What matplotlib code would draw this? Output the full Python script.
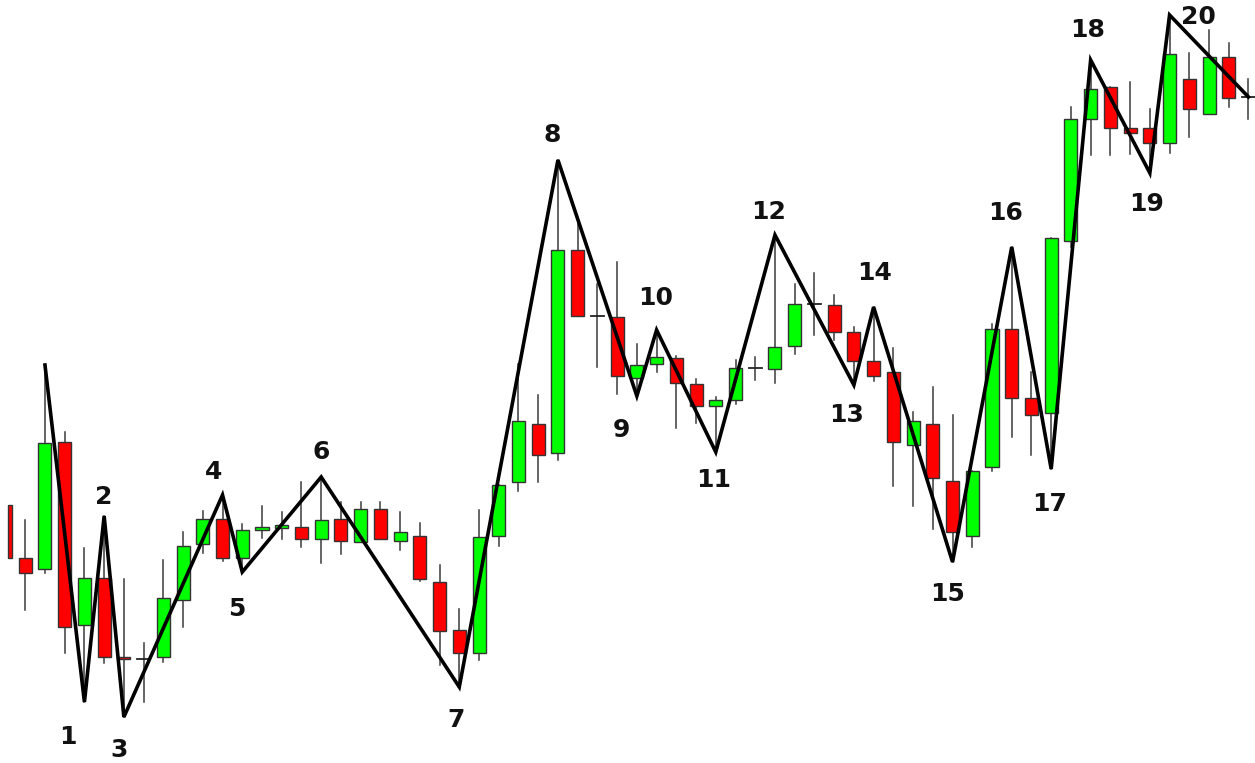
import numpy as np
import matplotlib as mpl
import matplotlib.pyplot as plt
from matplotlib.patches import Rectangle

mpl.rcParams['font.family'] = ['DejaVu Sans']

# 蜡烛图数据 (开, 高, 低, 收)
opens = [275, 222, 211, 338, 155, 202, 123, 121, 123, 180, 236, 261, 222, 250, 252, 253,
         241, 261, 238, 271, 239, 244, 198, 150, 127, 244, 298, 356, 327, 530, 464, 463,
         402, 416, 422, 396, 374, 380, 412, 411, 434, 476, 475, 448, 419, 408, 335, 356,
         299, 244, 313, 451, 382, 367, 539, 661, 693, 652, 652, 637, 701, 666, 723, 683]
highs = [277, 260, 415, 348, 232, 264, 201, 137, 220, 248, 269, 285, 256, 274, 268, 298,
         303, 278, 278, 278, 268, 257, 215, 171, 270, 295, 416, 385, 620, 559, 496, 518,
         436, 450, 424, 401, 383, 420, 423, 545, 496, 507, 485, 453, 473, 432, 368, 393,
         365, 309, 456, 533, 408, 542, 673, 720, 693, 698, 671, 765, 727, 750, 737, 701]
lows = [220, 170, 207, 127, 78, 117, 63, 78, 118, 153, 227, 219, 208, 242, 241, 233,
        217, 226, 238, 241, 230, 199, 115, 93, 120, 234, 289, 298, 320, 464, 413, 386,
        384, 408, 352, 357, 328, 376, 400, 397, 426, 445, 440, 395, 399, 294, 274, 251,
        218, 233, 309, 343, 325, 311, 533, 625, 625, 626, 607, 627, 643, 666, 673, 661]
closes = [222, 207, 337, 153, 202, 123, 121, 121, 182, 234, 261, 222, 250, 253, 255, 241,
          260, 239, 271, 241, 248, 201, 149, 127, 243, 295, 359, 325, 530, 464, 464, 404,
          415, 423, 397, 374, 380, 412, 412, 433, 476, 476, 448, 419, 404, 338, 359, 302,
          248, 309, 451, 382, 365, 542, 661, 691, 652, 647, 637, 726, 671, 723, 682, 683]

# 折线转折点: (K线序号, 'H'=最高 / 'L'=最低 / 'C'=收盘)
pivot_idx = [2, 4, 5, 6, 11, 12, 16, 23, 28, 32, 33, 36, 39, 43, 44, 48, 51, 53, 55, 58, 59, 63]
pivot_type = ['H', 'L', 'H', 'L', 'H', 'L', 'H', 'L', 'H', 'L', 'H', 'L', 'H', 'L', 'H', 'L',
              'H', 'L', 'H', 'L', 'H', 'C']
pivot_labels = ['', '1', '2', '3', '4', '5', '6', '7', '8', '9', '10', '11', '12', '13', '14',
                '15', '16', '17', '18', '19', '20', '']

# 标签偏移 (像素)
label_offsets = [(0, 0), (-17, -35), (0, 19), (-5, -33), (-9, 23), (-6, -37), (0, 25), (-3, -33),
                 (-6, 25), (-15, -34), (-1, 32), (-2, -28), (-6, 23), (-7, -30), (1, 34),
                 (-5, -32), (-6, 34), (-2, -35), (-3, 30), (-3, -31), (29, -2), (0, 0)]

fig = plt.figure(figsize=(12.55, 7.63), dpi=100)
ax = fig.add_axes([0, 0, 1, 1])
ax.set_xlim(-0.279, 63.33)
ax.set_ylim(17, 780)
ax.axis('off')

width = 0.66
for i in range(len(opens)):
    o, h, l, c = opens[i], highs[i], lows[i], closes[i]
    color = '#00ff00' if c > o else '#ff0000'
    if i == 0:
        # 左边被截掉的第一根K线, 只剩一条
        ax.add_patch(Rectangle((0.13, min(o, c)), 0.2, abs(c - o),
                               facecolor=color, edgecolor='#333333', linewidth=1.0, zorder=2))
        continue
    ax.plot([i, i], [l, h], color='#3a3a3a', linewidth=1.1, zorder=1)
    if o == c:
        # 十字星
        ax.plot([i - width / 2, i + width / 2], [o, o], color='#222222', linewidth=1.3, zorder=2)
        continue
    ax.add_patch(Rectangle((i - width / 2, min(o, c)), width, abs(c - o),
                           facecolor=color, edgecolor='#333333', linewidth=1.0, zorder=2))

# 折线
zx, zy = [], []
for idx, t in zip(pivot_idx, pivot_type):
    zx.append(idx)
    if t == 'H':
        zy.append(highs[idx])
    elif t == 'L':
        zy.append(lows[idx])
    else:
        zy.append(closes[idx])
ax.plot(zx, zy, color='black', linewidth=2.6, solid_joinstyle='miter', zorder=3)

for x, y, lab, off in zip(zx, zy, pivot_labels, label_offsets):
    if lab == '':
        continue
    ax.annotate(lab, (x, y), xytext=off, textcoords='offset pixels',
                ha='center', va='center', fontsize=18, fontweight='bold', color='#111111')

plt.savefig('out.png', dpi=100)
plt.close(fig)
